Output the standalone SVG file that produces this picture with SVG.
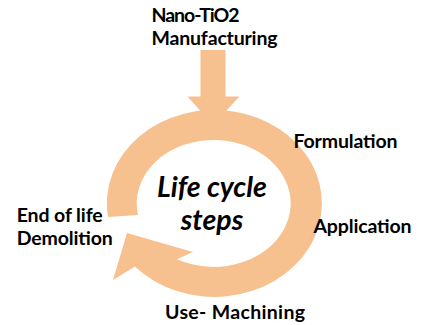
<svg xmlns="http://www.w3.org/2000/svg" width="428" height="325" viewBox="0 0 428 325">
  <style>
    .shape { fill: #F7C08F; stroke: none; }
    .label { font-family: Lato, "Liberation Sans", sans-serif; font-weight: 700; font-size: 19.5px; fill: #000000; }
    .title { font-family: Lato, "Liberation Sans", sans-serif; font-weight: 700; font-style: italic; font-size: 28.5px; fill: #000000; text-anchor: middle; }
  </style>
  <rect width="428" height="325" fill="#ffffff"/>

  <g id="connectors">
    <!-- inflow arrow from manufacturing into the cycle -->
    <polygon id="inflow-arrow" class="shape" points="200.5,50 225.5,50 225.5,96.5 239.5,96.5 213,125 187.5,96.5 200.5,96.5"/>
    <!-- circular arrow running clockwise round the cycle -->
    <path id="cycle-arrow" class="shape" d="M108,217 A107.5,93.5 0 1 1 135,266.5 L113,280 L127,233 L193,252 L177,259.2 A77,63.5 0 1 0 138,215 Z"/>
  </g>

  <g id="node-manufacturing">
    <text class="label" x="151.5" y="21.5" textLength="88">Nano-TiO2</text>
    <text class="label" x="151.5" y="45" textLength="126">Manufacturing</text>
  </g>
  <g id="node-formulation">
    <text class="label" x="293.5" y="148.3" textLength="104">Formulation</text>
  </g>
  <g id="node-application">
    <text class="label" x="313.5" y="233.3" textLength="98">Application</text>
  </g>
  <g id="node-use">
    <text class="label" x="165" y="319.3" textLength="140">Use- Machining</text>
  </g>
  <g id="node-end-of-life">
    <text class="label" x="16.7" y="221.7" textLength="86">End of life</text>
    <text class="label" x="16.7" y="245" textLength="96">Demolition</text>
  </g>
  <g id="node-center">
    <text class="title" x="212" y="196.7">Life cycle</text>
    <text class="title" x="212" y="230">steps</text>
  </g>
</svg>
